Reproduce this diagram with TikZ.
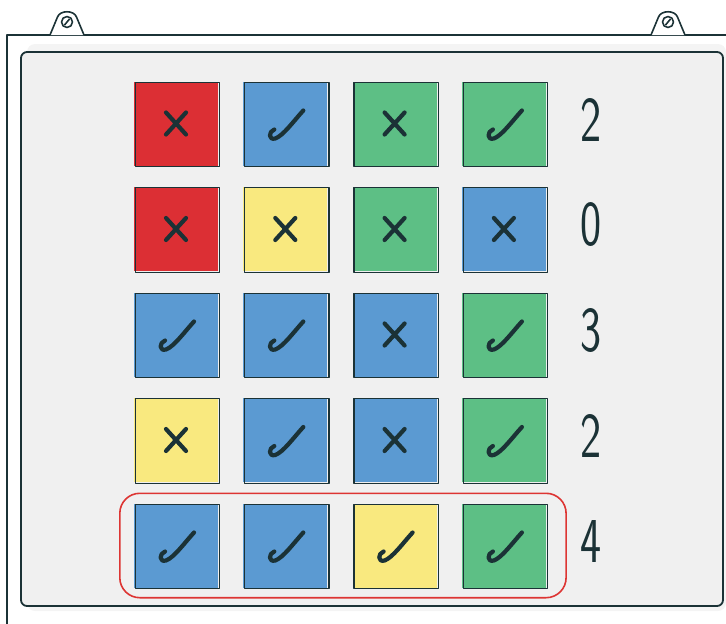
\documentclass[tikz,border=0pt]{standalone}
\usepackage{tikz}
\definecolor{bdink}{HTML}{1B3236}
\definecolor{bdpanel}{HTML}{F0F0F0}
\definecolor{bdshade}{HTML}{F4F4F4}
\definecolor{bdred}{HTML}{DC2F34}
\definecolor{bdblue}{HTML}{5B9AD2}
\definecolor{bdgreen}{HTML}{5DBF85}
\definecolor{bdyellow}{HTML}{F9E97F}
\definecolor{bdring}{HTML}{DD3533}

\begin{document}
\begin{tikzpicture}[x=1pt,y=-1pt,line join=round,
  frame/.style={draw=bdink,line width=1.8pt},
  cell/.style={minimum size=84pt,inner sep=0pt,fill=#1},
  sketch/.style={draw=bdink,line width=1.3pt},
  markink/.style={draw=bdink,line width=4.2pt,line cap=round},
  score/.style={font=\sffamily\fontsize{64}{64}\selectfont,text=bdink,inner sep=0pt,xscale=0.7},
  ring/.style={draw=bdring,line width=1.6pt,rounded corners=20pt}]
  \useasboundingbox (0,0) rectangle (726,624);
  \draw[frame] (7,624) -- (7,35) -- (726,35);
  \foreach \hx in {67,668}{
    \draw[frame,line width=1.6pt,fill=white] (\hx-17,35) -- (\hx-9.5,17) .. controls (\hx-7,10) and (\hx+7,10) .. (\hx+9.5,17) -- (\hx+17,35);
    \draw[frame,line width=1.6pt] (\hx,22) circle (5.5);
    \draw[frame,line width=1.6pt] (\hx-2.5,25) -- (\hx+2.5,19);
  }
  \fill[bdshade,rounded corners=8pt] (27,44) rectangle (726,611);
  \draw[frame,fill=bdpanel,rounded corners=6pt] (21,52) rectangle (723,606);
  \foreach \r/\k/\col in {1/1/bdred,1/2/bdblue,1/3/bdgreen,1/4/bdgreen,
      2/1/bdred,2/2/bdyellow,2/3/bdgreen,2/4/bdblue,
      3/1/bdblue,3/2/bdblue,3/3/bdblue,3/4/bdgreen,
      4/1/bdyellow,4/2/bdblue,4/3/bdblue,4/4/bdgreen,
      5/1/bdblue,5/2/bdblue,5/3/bdyellow,5/4/bdgreen}{
    \node[cell=\col] (c-\r-\k) at ({176+109.3*(\k-1)},{123.5+105.5*(\r-1)}) {};
    \draw[sketch] ([shift={(1.5,1)}]c-\r-\k.north west) rectangle ([shift={(1.5,1)}]c-\r-\k.south east);
  }
  \foreach \r/\k in {1/2,1/4,3/1,3/2,3/4,4/2,4/4,5/1,5/2,5/3,5/4}{
    \draw[markink,shift={(c-\r-\k)}] (-11,6) .. controls (-17,8) and (-17,17) .. (-10,15) .. controls (-2,12) and (8,-2) .. (18,-13);
  }
  \foreach \r/\k in {1/1,1/3,2/1,2/2,2/3,2/4,3/3,4/1,4/3}{
    \draw[markink,shift={(c-\r-\k)}] (-10,-11) -- (10,11) (10,-11) -- (-10,11);
  }
  \foreach \r/\v in {1/2,2/0,3/3,4/2,5/4}{
    \node[score] (n\r) at ([shift={(87,-4)}]c-\r-4.center) {\v};
  }
  \draw[ring] ([shift={(-14,-10)}]c-5-1.north west) rectangle ([shift={(20,10)}]c-5-4.south east);
\end{tikzpicture}
\end{document}
